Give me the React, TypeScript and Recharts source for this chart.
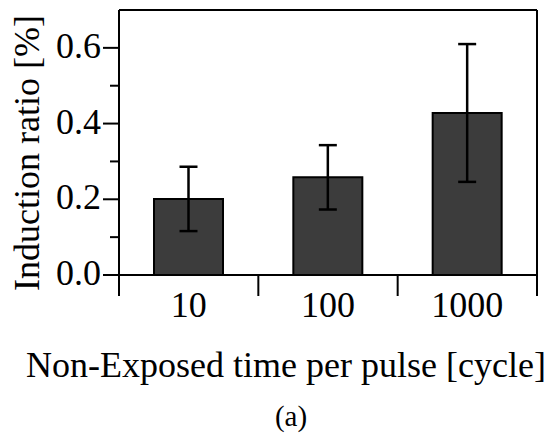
import { Bar, BarChart, ErrorBar, ReferenceLine, XAxis, YAxis } from 'recharts';

const categories = ['10', '100', '1000'];
const ratios = [0.201, 0.258, 0.428];
const errors = [0.085, 0.085, 0.182];
const yTicks = [0, 0.1, 0.2, 0.3, 0.4, 0.5, 0.6];

const data = categories.map((name, i) => ({ name, ratio: ratios[i], err: errors[i] }));

const FONT = '"Liberation Serif", "Times New Roman", serif';
const INK = '#000';
const BAR_FILL = '#3c3c3c';

// y ticks: long mark + label on even tenths, short mark on odd ones
function YTick(props: any) {
  const { x, y, payload } = props;
  const major = Math.round(payload.value * 10) % 2 === 0;
  return (
    <g>
      <line x1={x - (major ? 16 : 9)} x2={x} y1={y} y2={y} stroke={INK} strokeWidth={2} />
      {major && (
        <text x={x - 18} y={y + 10} textAnchor="end" fontFamily={FONT} fontSize={36} fill={INK}>
          {payload.value.toFixed(1)}
        </text>
      )}
    </g>
  );
}

// x ticks: label in the band centre, marks on the band edges
function XTick(props: any) {
  const { x, y, payload, index, visibleTicksCount } = props;
  const half = payload.offset ?? 0;
  const last = index === visibleTicksCount - 1;
  return (
    <g>
      <line x1={x - half} x2={x - half} y1={y} y2={y + 21} stroke={INK} strokeWidth={2} />
      {last && <line x1={x + half} x2={x + half} y1={y} y2={y + 21} stroke={INK} strokeWidth={2} />}
      <text x={x} y={y + 42} textAnchor="middle" fontFamily={FONT} fontSize={36} fill={INK}>
        {payload.value}
      </text>
    </g>
  );
}

const xLabel = () => (
  <g>
    <text x={286} y={377} textAnchor="middle" fontFamily={FONT} fontSize={36} fill={INK}>
      Non-Exposed time per pulse [cycle]
    </text>
    <text x={291} y={426} textAnchor="middle" fontFamily={FONT} fontSize={29} fill={INK}>
      (a)
    </text>
  </g>
);

const yLabel = () => (
  <text
    x={39}
    y={153}
    textAnchor="middle"
    transform="rotate(-90, 39, 153)"
    fontFamily={FONT}
    fontSize={36}
    fill={INK}
  >
    Induction ratio [%]
  </text>
);

export default function App() {
  return (
    <div style={{ position: 'absolute', left: 0, top: 0, background: '#fff' }}>
      <BarChart
        width={560}
        height={437}
        data={data}
        margin={{ top: 10, right: 22, bottom: 0, left: 0 }}
      >
        <XAxis
          dataKey="name"
          height={162}
          tickLine={false}
          tickSize={0}
          tickMargin={0}
          axisLine={{ stroke: INK, strokeWidth: 2 }}
          tick={<XTick />}
          interval={0}
          label={xLabel}
        />
        <YAxis
          width={119}
          domain={[0, 0.7]}
          ticks={yTicks}
          interval={0}
          tickLine={false}
          tickSize={0}
          tickMargin={0}
          axisLine={{ stroke: INK, strokeWidth: 2 }}
          tick={<YTick />}
          label={yLabel}
        />
        <YAxis
          yAxisId="right"
          orientation="right"
          width={1}
          domain={[0, 0.7]}
          tick={false}
          tickLine={false}
          axisLine={{ stroke: INK, strokeWidth: 2 }}
        />
        <ReferenceLine y={0.7} stroke={INK} strokeWidth={2} />
        <Bar
          dataKey="ratio"
          fill={BAR_FILL}
          stroke={INK}
          strokeWidth={2}
          barSize={69}
          isAnimationActive={false}
        >
          <ErrorBar dataKey="err" width={9} stroke={INK} strokeWidth={2.5} isAnimationActive={false} />
        </Bar>
      </BarChart>
    </div>
  );
}
